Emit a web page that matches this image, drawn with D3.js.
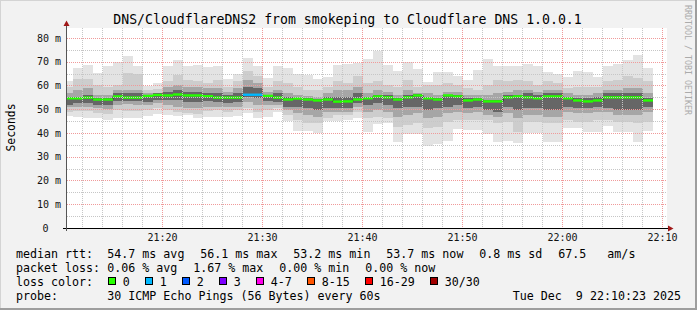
<!DOCTYPE html>
<html>
<head>
<meta charset="utf-8">
<title>smokeping</title>
<script src="https://cdn.jsdelivr.net/npm/d3@7"></script>
<style>
  body { margin: 0; background: #f2f2f2; }
  svg text { font-family: "DejaVu Sans Mono", monospace; }
</style>
</head>
<body>
<svg id="chart" width="697" height="310"></svg>
<script>
// ---- data (ms), one value per minute, first bar starts 21:10:06 ----
var firstBar = "21:10:06";
var median = [54.6,54.6,54.9,54.1,54.1,55.4,54.9,54.9,55.6,56.0, 55.8,56.2,55.8,55.8,55.5,54.9,54.9,54.9,56.1,56.1,
              55.6,54.9,54.1,54.5,54.1,53.7,54.1,53.2,53.3,54.1, 54.6,55.4,55.0,54.1,55.0,55.8,54.6,54.1,55.8,55.4,
              53.7,54.1,53.3,53.3,55.0,55.4,55.0,54.6,55.4,55.4, 54.6,53.7,53.3,53.7,55.0,55.0,55.0,55.0,53.7];
var loss = [0,0,0,0,0,0,0,0,0,0, 0,0,0,0,0,0,0,0,1,1, 0,0,0,0,0,0,0,0,0,0,
            0,0,0,0,0,0,0,0,0,0, 0,0,0,0,0,0,0,0,0,0, 0,0,0,0,0,0,0,0,0];
var smokeMax = [61.9,67.3,68.7,65.3,68.2,69.7,72.5,68.0,59.8,61.2, 68.2,70.8,68.0,68.7,67.7,68.2,62.8,64.9,71.5,68.2,
                63.2,68.0,67.5,64.9,64.6,62.8,63.5,68.7,69.1,69.4, 71.1,74.6,68.7,66.1,69.8,67.0,61.4,65.6,65.6,64.2,
                62.4,66.6,71.2,68.0,68.2,68.2,69.1,68.2,65.6,64.9, 63.5,66.1,65.6,63.5,68.0,69.1,70.8,72.9,67.3];
var smokeMin = [47.2,46.6,46.3,46.1,45.5,46.1,46.1,46.5,47.2,48.0, 47.6,47.2,47.5,46.5,46.9,46.9,46.6,47.2,48.6,46.3,
                46.9,49.0,45.1,41.0,41.0,40.2,45.1,45.1,45.5,46.2, 40.3,43.8,44.1,36.1,39.6,39.6,34.7,35.4,36.8,41.6,
                41.3,41.3,39.6,36.1,36.8,35.7,39.9,39.9,36.1,36.4, 42.0,42.3,40.6,40.6,43.0,40.6,40.6,36.1,41.0];
var band2Hi = [59.5,62.6,62.6,60.0,59.5,60.2,65.2,64.7,58.1,58.4, 61.7,64.5,62.4,61.9,61.2,62.4,59.5,61.7,65.9,63.8,
               59.5,61.7,61.0,59.5,58.1,58.1,59.5,61.7,61.0,63.8, 61.0,61.7,60.2,59.5,62.4,59.5,60.2,60.2,60.9,60.2,
               58.8,58.1,60.2,62.4,61.7,62.4,61.7,60.2,61.7,61.0, 58.8,59.5,59.5,59.5,61.7,62.4,63.8,63.1,61.7];
var band2Lo = [49.0,49.3,49.4,48.3,48.0,49.7,49.4,49.3,49.7,50.4, 49.7,49.0,48.6,48.0,49.3,49.7,49.0,49.7,50.4,49.0,
               49.7,50.4,47.6,45.5,44.1,44.1,46.2,47.6,47.6,49.0, 46.2,46.9,46.2,42.7,43.4,44.1,42.0,42.7,44.8,45.5,
               45.5,45.5,45.5,44.1,44.8,40.6,44.8,44.8,44.1,44.1, 45.5,44.8,44.8,45.5,45.5,44.8,44.8,44.1,44.8];
var band3Hi = [56.7,58.1,58.8,56.0,56.0,58.1,58.1,58.1,56.7,56.7, 59.5,60.2,59.5,59.5,58.8,58.8,57.4,58.8,62.4,61.0,
               57.4,58.1,56.7,56.0,55.6,55.3,56.7,58.1,58.1,59.5, 56.7,58.1,57.4,56.0,58.1,56.7,56.7,56.0,57.4,57.4,
               56.0,56.0,56.0,56.7,57.4,58.1,58.1,57.4,58.1,58.1, 56.7,56.0,56.0,56.7,58.1,58.1,58.8,58.8,56.7];
var band3Lo = [51.1,51.1,51.1,50.4,50.0,51.8,52.2,51.8,51.8,52.5, 51.8,51.1,50.4,50.4,51.1,51.1,51.1,51.1,53.2,51.8,
               51.8,51.8,49.7,48.3,47.6,46.9,49.0,49.0,49.0,51.1, 49.0,49.7,49.0,46.9,47.6,48.3,46.2,46.9,48.3,49.0,
               48.3,49.0,47.6,46.9,48.3,46.2,47.6,47.6,46.9,46.9, 49.0,48.3,48.3,49.0,49.0,47.6,47.6,47.6,49.0];
var band4Hi = [55.2,55.3,56.0,54.6,54.6,56.7,56.7,56.7,56.0,56.8, 57.4,58.1,57.4,57.4,57.0,56.7,56.0,56.7,59.5,58.8,
               56.0,56.7,55.3,54.9,54.6,54.2,55.0,55.3,55.3,56.7, 55.3,56.0,56.0,54.6,56.0,56.3,55.1,54.6,56.0,56.0,
               54.6,54.6,53.9,53.9,56.0,56.0,56.7,56.0,56.7,56.7, 55.3,54.6,54.6,55.3,56.7,56.7,56.7,56.7,54.6];
var band4Lo = [51.8,52.5,52.8,51.8,51.8,53.6,53.6,53.6,53.2,53.9, 53.9,53.9,53.2,53.2,53.6,53.2,52.8,53.2,55.3,54.6,
               53.6,53.2,51.1,51.1,50.4,49.7,50.4,50.4,50.4,52.5, 51.8,52.5,51.8,50.4,51.1,51.1,49.7,50.4,51.1,51.8,
               50.4,51.1,49.7,49.0,51.1,49.7,50.4,50.4,49.7,49.7, 51.1,50.4,50.4,51.1,50.4,49.7,49.7,49.7,51.1];

var yTicks = [0,10,20,30,40,50,60,70,80];
var xTicks = ["21:20","21:30","21:40","21:50","22:00","22:10"];
var lossLabels = ["0","1","2","3","4-7","8-15","16-29","30/30"];
var lossColors = ["#26ff00","#00b8ff","#0059ff","#7e00ff","#ff00ea","#ff5500","#ff0000","#a10000"];
var rttItems  = ["54.7 ms avg","56.1 ms max","53.2 ms min","53.7 ms now","0.8 ms sd","67.5   am/s"];
var lossItems = ["0.06 % avg","1.67 % max","0.00 % min","0.00 % now"];
var title = "DNS/CloudflareDNS2 from smokeping to Cloudflare DNS 1.0.0.1";
var probeText = "30 ICMP Echo Pings (56 Bytes) every 60s";
var dateText = "Tue Dec  9 22:10:23 2025";

// ---- layout ----
var W = 697, H = 310;
var pLeft = 67, pRight = 667, pTop = 28, pBottom = 228;
var parseT = d3.timeParse("%Y-%m-%d %H:%M:%S");
function t(s) { return parseT("2025-12-09 " + s); }

var x = d3.scaleTime().domain([t("21:10:30"), t("22:10:30")]).range([pLeft, pRight]);
var y = d3.scaleLinear().domain([0, 84.2]).range([pBottom, pTop]);

var svg = d3.select("#chart");

// frame
svg.append("rect").attr("width", W).attr("height", H).attr("fill", "#f2f2f2");
svg.append("path").attr("d", "M0,0H697V1H1V310H0Z").attr("fill", "#d4d4d4");
svg.append("path").attr("d", "M697,0V310H0V308H695V0Z").attr("fill", "#9e9e9e");

// canvas
svg.append("rect").attr("x", pLeft).attr("y", pTop).attr("width", pRight - pLeft).attr("height", pBottom - pTop).attr("fill", "#fff");

svg.append("clipPath").attr("id", "plot").append("rect")
    .attr("x", pLeft).attr("y", pTop).attr("width", pRight - pLeft).attr("height", pBottom - pTop);

var g = svg.append("g").attr("clip-path", "url(#plot)");

var bars = median.map(function (m, i) {
    var s = d3.timeMinute.offset(t(firstBar), i);
    return { i: i, x0: x(s), x1: x(d3.timeMinute.offset(s, 1)) };
});

// smoke layers, outermost first
var layers = [
    [smokeMin, smokeMax, "#e3e3e3"],
    [band2Lo, band2Hi, "#cdcdcd"],
    [band3Lo, band3Hi, "#a6a6a6"],
    [band4Lo, band4Hi, "#666666"]
];
layers.forEach(function (L) {
    g.append("g").selectAll("rect")
        .data(bars)
        .enter()
        .append("rect")
        .attr("x", function (d) { return d.x0; })
        .attr("width", function (d) { return d.x1 - d.x0; })
        .attr("y", function (d) { return y(L[1][d.i]); })
        .attr("height", function (d) { return y(L[0][d.i]) - y(L[1][d.i]); })
        .attr("fill", L[2])
        .attr("shape-rendering", "crispEdges");
});

// grid
var grid = svg.append("g").attr("fill", "none").attr("stroke-dasharray", "1,1");
d3.range(5, 81, 5).forEach(function (v) {
    var yy = Math.round(y(v)) + 0.5;
    grid.append("line").attr("x1", pLeft).attr("x2", pRight).attr("y1", yy).attr("y2", yy)
        .attr("stroke", v % 10 == 0 ? "#f09a9a" : "#c6c6c6");
});
d3.timeMinute.every(2).range(t("21:12:00"), t("22:10:30")).forEach(function (d) {
    var xx = Math.round(x(d)) + 0.5;
    grid.append("line").attr("y1", pTop).attr("y2", pBottom).attr("x1", xx).attr("x2", xx)
        .attr("stroke", d.getMinutes() % 10 == 0 ? "#f09a9a" : "#c6c6c6");
});

// median: black step line, then loss coloured segments
var pts = [];
bars.forEach(function (d) { pts.push([d.x0, y(median[d.i])]); pts.push([d.x1, y(median[d.i])]); });
g.append("path").attr("d", d3.line()(pts)).attr("fill", "none").attr("stroke", "#202020").attr("stroke-width", 1);

function lossIndex(n) {
    if (n < 4) return n;
    if (n < 8) return 4;
    if (n < 16) return 5;
    if (n < 30) return 6;
    return 7;
}
g.append("g").selectAll("line")
    .data(bars)
    .enter()
    .append("line")
    .attr("x1", function (d) { return d.x0; })
    .attr("x2", function (d) { return d.x1; })
    .attr("y1", function (d) { return y(median[d.i]); })
    .attr("y2", function (d) { return y(median[d.i]); })
    .attr("stroke", function (d) { return lossColors[lossIndex(loss[d.i])]; })
    .attr("stroke-width", 2.4);

// axes
var xAxis = svg.append("g").attr("transform", "translate(0," + pBottom + ")")
    .call(d3.axisBottom(x).tickValues(xTicks.map(function (s) { return t(s + ":00"); }))
        .tickSize(0).tickPadding(6).tickFormat(d3.timeFormat("%H:%M")));
xAxis.select(".domain").remove();
xAxis.selectAll("text").attr("font-size", "10px").attr("fill", "#111").attr("font-family", "DejaVu Sans Mono");

var yAxis = svg.append("g").attr("transform", "translate(" + pLeft + ",0)")
    .call(d3.axisLeft(y).tickValues(yTicks).tickSize(0).tickPadding(6)
        .tickFormat(function (d) { return d == 0 ? "0" : d + " m"; }));
yAxis.select(".domain").remove();
yAxis.selectAll("text").attr("font-size", "10px").attr("fill", "#111").attr("font-family", "DejaVu Sans Mono")
    .filter(function (d) { return d == 0; }).attr("x", -18.4);

svg.append("line").attr("x1", 63).attr("x2", 669).attr("y1", pBottom + 0.5).attr("y2", pBottom + 0.5)
    .attr("stroke", "#000").attr("stroke-width", 1);
svg.append("line").attr("x1", pLeft - 0.5).attr("x2", pLeft - 0.5).attr("y1", pBottom + 3).attr("y2", 25)
    .attr("stroke", "#555").attr("stroke-width", 1);
svg.append("path").attr("d", "M668,225.5L673.5,228.5L668,231.5Z").attr("fill", "#a01818");
svg.append("path").attr("d", "M63.5,26L66.5,20.5L69.5,26Z").attr("fill", "#a01818");

// titles
svg.append("text").attr("x", 347.5).attr("y", 24).attr("text-anchor", "middle")
    .attr("font-size", "13.2px").attr("fill", "#000").text(title);
svg.append("text").attr("transform", "translate(15,127.5) rotate(-90)").attr("text-anchor", "middle")
    .attr("font-size", "11.4px").attr("fill", "#000").text("Seconds");
svg.append("text").attr("transform", "translate(684.5,5) rotate(90)")
    .attr("font-size", "8.3px").attr("fill", "#ababab").text("RRDTOOL / TOBI OETIKER");

// legend
var cw = 7, fs = "11.65px";
var rows = [257.7, 271.7, 285.8, 300];
function label(txt, xx, yy, anchor) {
    svg.append("text").attr("x", xx).attr("y", yy).attr("font-size", fs).attr("fill", "#000")
        .attr("text-anchor", anchor || "start").style("white-space", "pre").text(txt);
}
label("median rtt:", 16, rows[0]);
label("packet loss:", 16, rows[1]);
label("loss color:", 16, rows[2]);
label("probe:", 16, rows[3]);

var cx = 107.3;
rttItems.forEach(function (s) { label(s, cx, rows[0]); cx += s.length * cw + 16; });
cx = 107.3;
lossItems.forEach(function (s) { label(s, cx, rows[1]); cx += s.length * cw + 16; });

var bx = 108.5;
lossLabels.forEach(function (s, i) {
    svg.append("rect").attr("x", bx).attr("y", 277.5).attr("width", 7).attr("height", 7)
        .attr("fill", lossColors[i]).attr("stroke", "#000").attr("stroke-width", 1);
    label(s, bx + 14.3, rows[2]);
    bx += 30 + s.length * cw;
});

label(probeText, 107.3, rows[3]);
label(dateText, 681, rows[3], "end");
</script>
</body>
</html>
